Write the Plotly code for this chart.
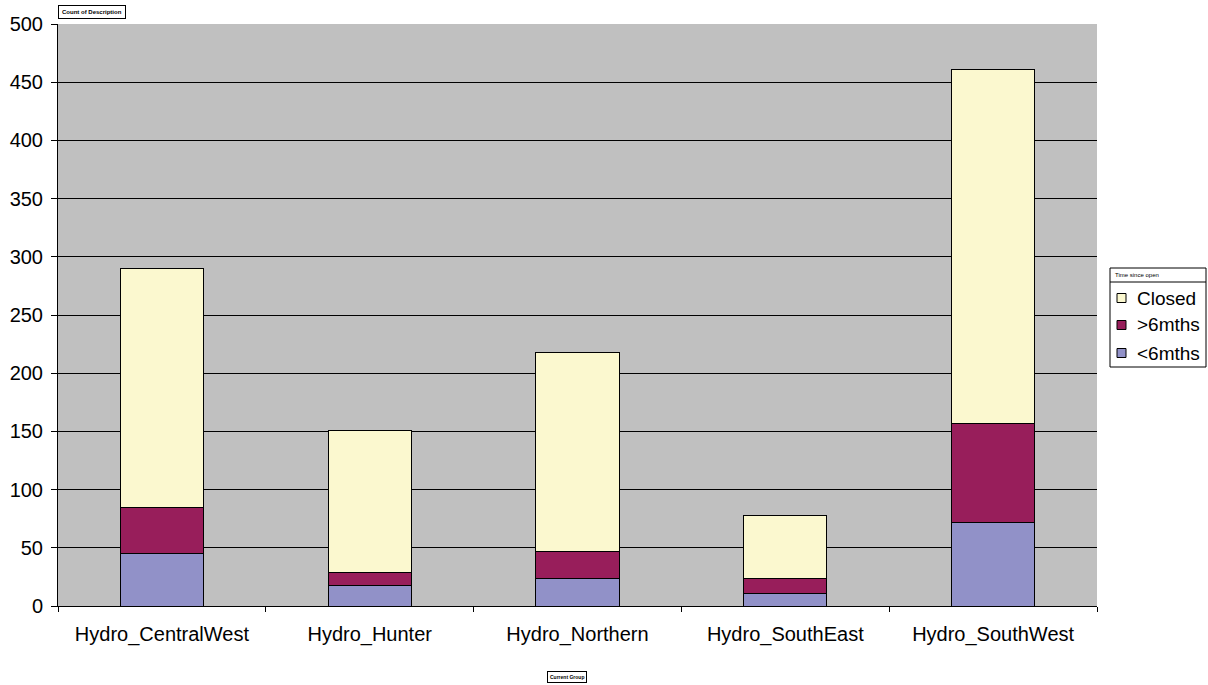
import plotly.graph_objects as go

categories = ["Hydro_CentralWest", "Hydro_Hunter", "Hydro_Northern", "Hydro_SouthEast", "Hydro_SouthWest"]
lt6 = [45, 18, 24, 11, 72]
gt6 = [40, 11, 23, 13, 85]
closed = [205, 122, 171, 54, 304]

series = [
    ("<6mths", lt6, "#9191C8"),
    (">6mths", gt6, "#981E5B"),
    ("Closed", closed, "#FBF8CF"),
]
legend_title = "Time since open"

fig = go.Figure()
for name, vals, col in series:
    fig.add_trace(go.Bar(
        x=categories, y=vals, name=name, showlegend=False,
        marker=dict(color=col, line=dict(color="black", width=1)),
    ))

L, R, T, B = 58, 111, 24, 79
W, H = 1208, 685
pw, ph = W - L - R, H - T - B


def px(x):
    return (x - L) / pw


def py(y):
    return (H - B - y) / ph


shapes = []
annotations = []

# legend frame (title box + items box)
lx0, lx1 = 1110, 1206
ly_top, ly_sep, ly_bot = 268, 282, 367
shapes.append(dict(type="rect", xref="paper", yref="paper", x0=px(lx0), x1=px(lx1),
                   y0=py(ly_bot), y1=py(ly_top), line=dict(color="black", width=1),
                   fillcolor="white", layer="above"))
shapes.append(dict(type="line", xref="paper", yref="paper", x0=px(lx0), x1=px(lx1),
                   y0=py(ly_sep), y1=py(ly_sep), line=dict(color="black", width=1), layer="above"))
annotations.append(dict(text=legend_title, xref="paper", yref="paper", x=px(1113), y=py(275),
                        xanchor="left", yanchor="middle", showarrow=False, font=dict(size=6)))

item_y = [298, 325, 353]
for (name, vals, col), yc in zip(reversed(series), item_y):
    shapes.append(dict(type="rect", xref="paper", yref="paper", x0=px(1117), x1=px(1126),
                       y0=py(yc + 4.5), y1=py(yc - 4.5), line=dict(color="black", width=1),
                       fillcolor=col, layer="above"))
    annotations.append(dict(text=name, xref="paper", yref="paper", x=px(1135), y=py(yc),
                            xanchor="left", yanchor="middle", showarrow=False, font=dict(size=19)))

annotations += [
    dict(text="<b>Count of Description</b>", xref="paper", yref="paper",
         x=0, y=py(5), xanchor="left", yanchor="top", showarrow=False,
         font=dict(size=6), bordercolor="black", borderwidth=1, borderpad=3, bgcolor="white"),
    dict(text="<b>Current Group</b>", xref="paper", yref="paper",
         x=px(567), y=py(671), xanchor="center", yanchor="top", showarrow=False,
         font=dict(size=5), bordercolor="black", borderwidth=1, borderpad=2, bgcolor="white"),
]

fig.update_layout(
    width=W, height=H,
    margin=dict(l=L, r=R, t=T, b=B, pad=0, autoexpand=False),
    barmode="stack", bargap=0.6,
    paper_bgcolor="white", plot_bgcolor="#C0C0C0",
    font=dict(family="Liberation Sans, Arial, sans-serif", size=20, color="black"),
    showlegend=False,
    xaxis=dict(
        showline=True, linecolor="black", linewidth=1, mirror=False,
        ticks="outside", tickson="boundaries", ticklen=5, tickcolor="black",
        showgrid=False, ticklabelstandoff=10, tickfont=dict(size=20),
    ),
    yaxis=dict(
        range=[0, 500], dtick=50, showline=True, linecolor="black", linewidth=1,
        ticks="outside", ticklen=6, tickcolor="black",
        showgrid=True, gridcolor="black", gridwidth=1, zeroline=False,
        tickfont=dict(size=20), ticklabelstandoff=4,
    ),
    shapes=shapes,
    annotations=annotations,
)

fig.write_html("out.html")
